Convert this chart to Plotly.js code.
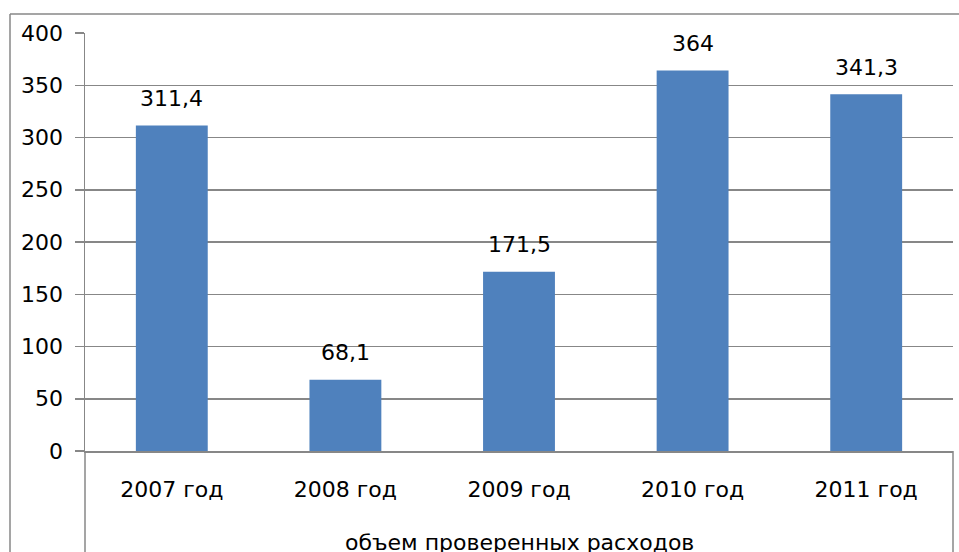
<!DOCTYPE html>
<html>
<head>
<meta charset="utf-8">
<script src="https://cdn.plot.ly/plotly-3.0.1.min.js"></script>
<style>html,body{margin:0;padding:0;background:#fff;}#chart{width:959px;height:552px;}</style>
</head>
<body>
<div id="chart"></div>
<script>
var categories = ["2007 год", "2008 год", "2009 год", "2010 год", "2011 год"];
var values = [311.4, 68.1, 171.5, 364, 341.3];
var valueLabels = ["311,4", "68,1", "171,5", "364", "341,3"];
var groupLabel = "объем проверенных расходов";
var yTicks = [0, 50, 100, 150, 200, 250, 300, 350, 400];

var FONT = "DejaVu Sans, sans-serif";
var FS = 22;
var GRID = "#878787";

var trace = {
  type: "bar",
  x: categories,
  y: values,
  marker: {color: "#4F81BD"},
  hoverinfo: "none"
};

var annotations = categories.map(function (c, i) {
  return {
    x: c, y: values[i], xref: "x", yref: "y",
    text: valueLabels[i], showarrow: false,
    yanchor: "middle", yshift: 27,
    font: {family: FONT, size: FS, color: "#000"}
  };
});
annotations.push({
  x: 0.5, y: -0.218, xref: "paper", yref: "paper",
  text: groupLabel, showarrow: false, yanchor: "middle",
  font: {family: FONT, size: FS, color: "#000"}
});

var L = 85, T = 33, R = 953, B = 451, W = 959, H = 552;
var pw = R - L, ph = B - T;
function px(x) { return (x - L) / pw; }
function py(y) { return (B - y) / ph; }

var lineStyle = {color: GRID, width: 1.5};
var shapes = [
  {type: "line", xref: "paper", yref: "paper", x0: px(L), x1: px(L), y0: py(B), y1: py(H + 2), line: lineStyle},
  {type: "line", xref: "paper", yref: "paper", x0: px(R), x1: px(R), y0: py(B), y1: py(H + 2), line: lineStyle},
  {type: "line", xref: "paper", yref: "paper", x0: px(10), x1: px(W + 2), y0: py(14), y1: py(14), line: lineStyle},
  {type: "line", xref: "paper", yref: "paper", x0: px(10), x1: px(10), y0: py(14), y1: py(H + 2), line: lineStyle}
];

var layout = {
  width: 959, height: 552,
  margin: {l: L, r: W - R, t: T, b: H - B, pad: 0},
  paper_bgcolor: "#fff", plot_bgcolor: "#fff",
  showlegend: false,
  bargap: 0.586,
  font: {family: FONT, size: FS, color: "#000"},
  xaxis: {
    type: "category",
    showline: true, linecolor: GRID, linewidth: 1.5,
    showgrid: false, ticks: "", zeroline: false,
    ticklabelstandoff: 18,
    tickfont: {family: FONT, size: FS, color: "#000"},
    fixedrange: true
  },
  yaxis: {
    range: [0, 400],
    tickvals: yTicks,
    ticktext: yTicks.map(String),
    showgrid: true, gridcolor: GRID, gridwidth: 1.5,
    zeroline: false,
    showline: true, linecolor: GRID, linewidth: 1.5,
    ticks: "outside", ticklen: 9, tickcolor: GRID, tickwidth: 1.5,
    ticklabelstandoff: 7,
    tickfont: {family: FONT, size: FS, color: "#000"},
    fixedrange: true
  },
  annotations: annotations,
  shapes: shapes
};

Plotly.newPlot("chart", [trace], layout, {displayModeBar: false, staticPlot: true});
</script>
</body>
</html>
